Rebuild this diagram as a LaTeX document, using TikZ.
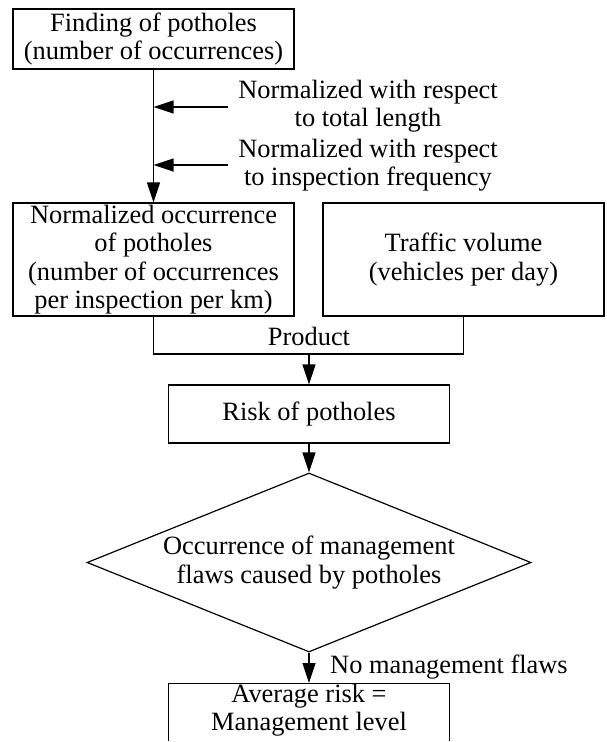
\documentclass[tikz,border=0pt]{standalone}
\usepackage{fontspec}
\setmainfont{Liberation Serif}
\usetikzlibrary{arrows.meta,shapes.geometric}
\begin{document}
\begin{tikzpicture}[x=1pt,y=-1pt,
  every node/.style={font=\fontsize{26.4}{28.5}\selectfont, align=center, inner sep=0pt},
  box/.style={draw, line width=1.2pt, minimum width=281pt},
  dia/.style={draw, line width=1.2pt, shape=diamond, aspect=2.48, minimum width=444pt, minimum height=179pt},
  conn/.style={line width=1.2pt},
  arr/.style={line width=1.2pt, -{Triangle[length=20pt,width=13pt]}}]
\useasboundingbox (0,0) rectangle (606,742);
\clip (-1,-1) rectangle (607,740);
\node[box, minimum height=60pt] (b1) at (153.5,39) {Finding of potholes\\(number of occurrences)};
\node[box, minimum height=113pt] (b2) at (153.5,259.5) {Normalized occurrence\\of potholes\\(number of occurrences\\per inspection per km)};
\node[box, minimum height=113pt] (b3) at (463.5,259.5) {Traffic volume\\(vehicles per day)};
\node[box, minimum height=58pt] (b4) at (309,414) {Risk of potholes};
\node[dia] (d) at (309,562.5) {Occurrence of management\\flaws caused by potholes};
\node[box, minimum height=68pt, anchor=north] (b5) at (309,683) {};
\node (b5t) at (309,710) {Average risk =\\Management level};
% side inputs
\node (t1) at (368,106) {Normalized with respect\\to total length};
\node (t2) at (368,165) {Normalized with respect\\to inspection frequency};
\coordinate (s1) at (228,107);
\coordinate (s2) at (228,165);
\draw[arr] (b1.south) -- (b2.north);
\draw[arr] (s1) -- (s1 -| b1.south);
\draw[arr] (s2) -- (s2 -| b1.south);
% product
\coordinate (pj) at (309,354);
\draw[conn] (b2.south) |- (pj) -| (b3.south);
\node (prod) at (309,336) {Product};
\draw[arr] (pj) -- (b4.north);
\draw[arr] (b4.south) -- (d.north);
\draw[arr] (d.south) -- (b5.north);
\node[anchor=west] (nm) at (330,667) {No management flaws};
\end{tikzpicture}
\end{document}
